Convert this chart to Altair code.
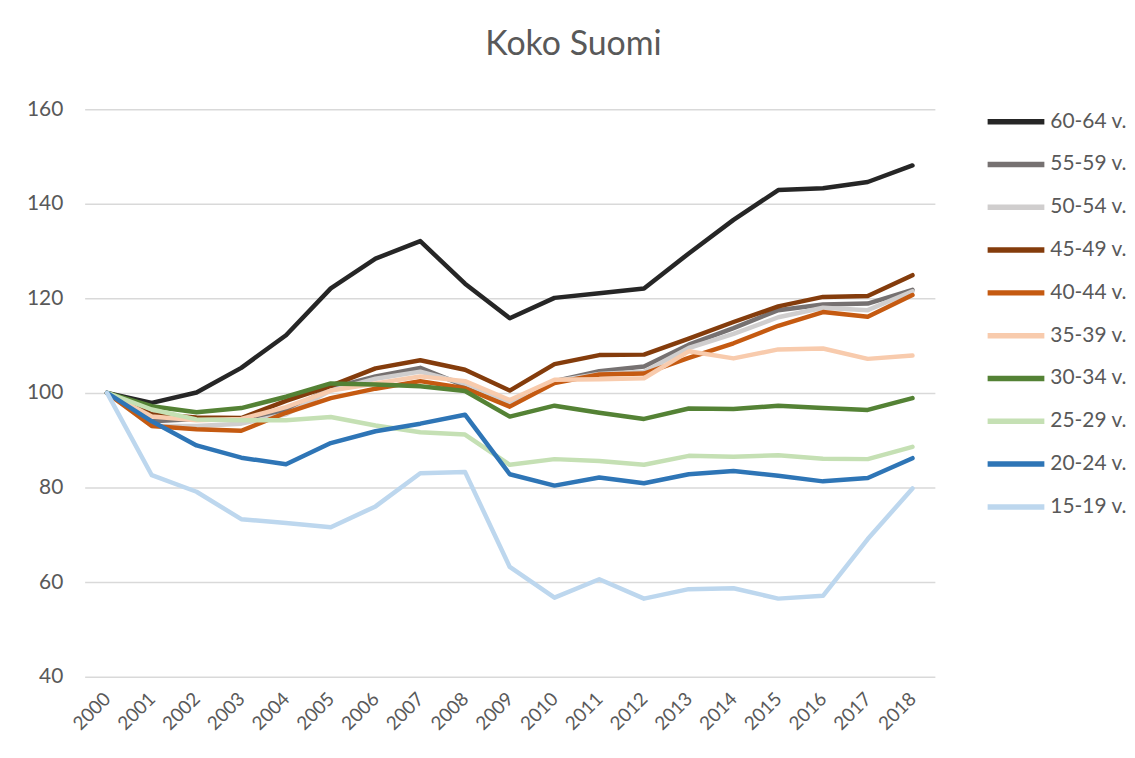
import altair as alt
import pandas as pd

years = [str(y) for y in range(2000, 2019)]

groups = ["60-64 v.", "55-59 v.", "50-54 v.", "45-49 v.", "40-44 v.",
          "35-39 v.", "30-34 v.", "25-29 v.", "20-24 v.", "15-19 v."]

colors = ["#262626", "#767171", "#d0cece", "#843c0c", "#c55a11",
          "#f8cbad", "#548235", "#c5e0b4", "#2e75b6", "#bdd7ee"]

v60_64 = [100, 97.9, 100.1, 105.3, 112.2, 122.1, 128.4, 132.1, 123.1, 115.8,
          120.1, 121.1, 122.1, 129.5, 136.6, 142.9, 143.3, 144.6, 148.1]
v55_59 = [100, 94.0, 94.5, 94.5, 96.2, 101.0, 103.5, 105.3, 101.5, 97.5,
          102.5, 104.6, 105.6, 110.2, 113.7, 117.5, 118.7, 118.9, 121.8]
v50_54 = [100, 93.0, 93.0, 93.5, 95.5, 100.5, 103.0, 104.5, 102.0, 98.0,
          102.5, 104.0, 104.5, 109.5, 112.5, 116.0, 118.0, 117.5, 121.5]
v45_49 = [100, 95.5, 94.8, 94.7, 98.3, 101.5, 105.2, 106.9, 104.9, 100.5,
          106.1, 108.0, 108.1, 111.5, 115.0, 118.3, 120.3, 120.5, 124.9]
v40_44 = [100, 93.0, 92.3, 92.0, 95.8, 98.9, 100.9, 102.5, 101.0, 97.1,
          102.1, 103.9, 104.1, 107.4, 110.5, 114.2, 117.1, 116.1, 120.7]
v35_39 = [100, 95.0, 94.2, 94.5, 97.0, 100.5, 102.0, 103.5, 102.5, 98.5,
          102.8, 102.9, 103.1, 108.8, 107.3, 109.2, 109.4, 107.2, 107.9]
v30_34 = [100, 97.2, 95.9, 96.8, 99.2, 102.0, 101.8, 101.4, 100.4, 95.0,
          97.3, 95.8, 94.5, 96.7, 96.6, 97.3, 96.8, 96.4, 98.9]
v25_29 = [100, 96.5, 94.4, 94.2, 94.2, 94.9, 93.1, 91.7, 91.2, 84.8,
          86.0, 85.6, 84.8, 86.7, 86.5, 86.8, 86.1, 86.0, 88.6]
v20_24 = [100, 94.0, 88.9, 86.3, 84.9, 89.4, 91.9, 93.5, 95.4, 82.8,
          80.4, 82.1, 80.9, 82.8, 83.5, 82.5, 81.3, 82.0, 86.2]
v15_19 = [100, 82.6, 79.1, 73.3, 72.5, 71.6, 76.0, 83.0, 83.3, 63.2,
          56.7, 60.6, 56.5, 58.5, 58.7, 56.5, 57.1, 69.1, 79.8]

series = [v60_64, v55_59, v50_54, v45_49, v40_44,
          v35_39, v30_34, v25_29, v20_24, v15_19]

rows = []
for gi, (g, vals) in enumerate(zip(groups, series)):
    for y, v in zip(years, vals):
        rows.append({"vuosi": y, "ryhma": g, "arvo": v, "jarj": gi})
df = pd.DataFrame(rows)

FONT = "Lato"
TXT = "#595959"

chart = alt.Chart(df).mark_line(strokeWidth=4.5, strokeCap="round", strokeJoin="round").encode(
    x=alt.X("vuosi:O", sort=years,
            scale=alt.Scale(paddingInner=1, paddingOuter=0.5),
            axis=alt.Axis(title=None, labelAngle=-45, labelAlign="right",
                          labelBaseline="middle", labelPadding=19, ticks=False,
                          domain=False, labelFontSize=19, labelColor=TXT,
                          labelFont=FONT)),
    y=alt.Y("arvo:Q", scale=alt.Scale(domain=[40, 160], nice=False, zero=False),
            axis=alt.Axis(title=None, values=[40, 60, 80, 100, 120, 140, 160],
                          ticks=False, domain=False, labelPadding=22,
                          labelFontSize=21, labelColor=TXT, labelFont=FONT,
                          gridColor="#d9d9d9", gridWidth=1.5)),
    color=alt.Color("ryhma:N",
                    scale=alt.Scale(domain=groups, range=colors),
                    legend=alt.Legend(title=None, orient="none", legendX=904,
                                      legendY=-19, symbolType="stroke",
                                      symbolStrokeWidth=5.5, symbolSize=3249,
                                      labelFontSize=21, labelColor=TXT,
                                      labelFont=FONT, rowPadding=-2,
                                      labelOffset=3)),
    detail="jarj:O",
    order="vuosi:O",
).properties(
    width=854, height=570,
    title=alt.Title("Koko Suomi", fontSize=34, font=FONT, fontWeight="normal",
                    color=TXT, offset=28, dx=64),
    padding={"left": 18, "top": 19, "right": 0, "bottom": 10},
).configure_view(stroke=None)

chart.save("out.html", embed_options={"renderer": "svg", "actions": False})
